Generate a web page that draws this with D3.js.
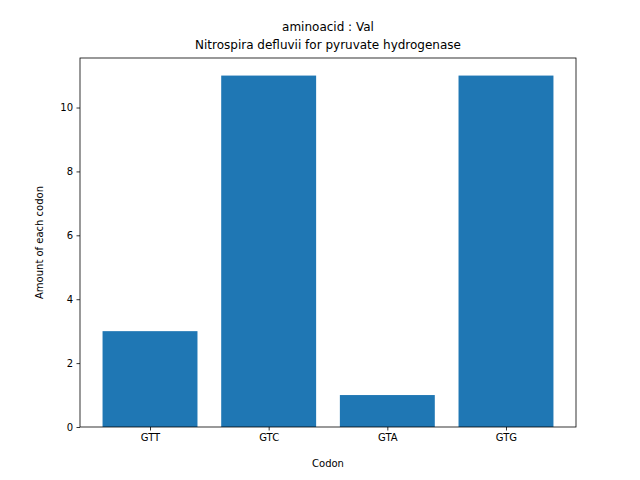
<!DOCTYPE html>
<html><head><meta charset="utf-8">
<script src="https://cdn.jsdelivr.net/npm/d3@7"></script>
<style>body{margin:0;background:#fff}text{font-family:"DejaVu Sans",sans-serif}</style>
</head><body>
<script>
const codons = ["GTT", "GTC", "GTA", "GTG"];
const counts = [3, 11, 1, 11];
const yTicks = [0, 2, 4, 6, 8, 10];

const W = 640, H = 480;
const m = {left: 80, right: 576, top: 58, bottom: 427};
const svg = d3.select("body").append("svg").attr("width", W).attr("height", H);

const x = d3.scaleLinear().domain([-0.59, 3.59]).range([m.left, m.right]);
const y = d3.scaleLinear().domain([0, 11.55]).range([m.bottom, m.top]);

svg.selectAll("rect.bar").data(counts).enter().append("rect")
    .attr("class", "bar")
    .attr("x", (d, i) => x(i - 0.4))
    .attr("width", (d, i) => x(i + 0.4) - x(i - 0.4))
    .attr("y", d => y(d))
    .attr("height", d => y(0) - y(d))
    .style("fill", "#1f77b4");

svg.append("rect").attr("x", m.left).attr("y", m.top)
    .attr("width", m.right - m.left).attr("height", m.bottom - m.top)
    .style("fill", "none").style("stroke", "black").style("stroke-width", 0.8);

const xAxis = svg.append("g").attr("transform", `translate(0,${m.bottom})`)
    .call(d3.axisBottom(x).tickValues([0, 1, 2, 3]).tickFormat(i => codons[i]).tickSize(3.5).tickPadding(3.5));
const yAxis = svg.append("g").attr("transform", `translate(${m.left},0)`)
    .call(d3.axisLeft(y).tickValues(yTicks).tickSize(3.5).tickPadding(3.5));
[xAxis, yAxis].forEach(g => {
    g.select(".domain").remove();
    g.selectAll("text").style("font-size", "10px").style("font-family", "DejaVu Sans").attr("fill", "black");
    g.selectAll("line").attr("stroke", "black").attr("stroke-width", 0.8);
});

svg.append("text").attr("x", (m.left + m.right) / 2).attr("y", 467)
    .attr("text-anchor", "middle").style("font-size", "10px").text("Codon");
svg.append("text").attr("transform", `translate(43,${(m.top + m.bottom) / 2}) rotate(-90)`)
    .attr("text-anchor", "middle").style("font-size", "10px").text("Amount of each codon");
svg.append("text").attr("x", (m.left + m.right) / 2).attr("y", 31)
    .attr("text-anchor", "middle").style("font-size", "12px").text("aminoacid : Val");
svg.append("text").attr("x", (m.left + m.right) / 2).attr("y", 49)
    .attr("text-anchor", "middle").style("font-size", "12px").text("Nitrospira defluvii for pyruvate hydrogenase");
</script>
</body></html>
